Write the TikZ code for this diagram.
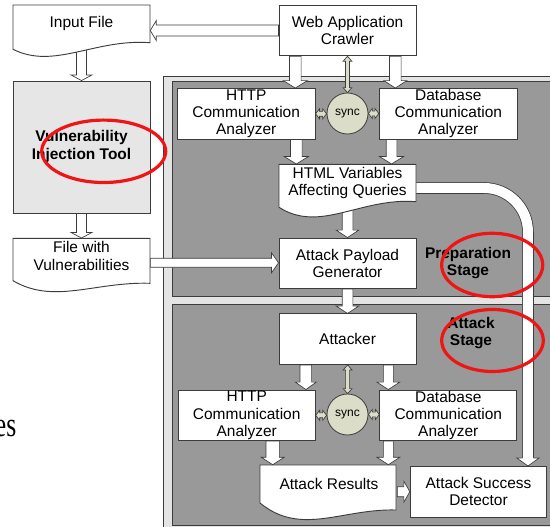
\documentclass[tikz,border=0pt]{standalone}
\usepackage{fontspec}
\setmainfont{Liberation Sans}
\newfontfamily\seriffont{Liberation Serif}
\usetikzlibrary{calc}
\pgfdeclarelayer{panels}
\pgfdeclarelayer{arrows}
\pgfsetlayers{panels,arrows,main}
\definecolor{boxline}{HTML}{3C3C3C}
\definecolor{framefill}{HTML}{E4E4E4}
\definecolor{panelfill}{HTML}{999999}
\definecolor{toolfill}{HTML}{E6E6E6}
\definecolor{syncfill}{HTML}{DCDDC8}
\definecolor{ringred}{HTML}{F01414}
% down block arrow: #1 start (x,y), #2 end (y), #3 shaft half, #4 head half, #5 head length
\newcommand{\arrD}[5]{\draw[barrow] let \p1=#1, \p2=#2 in
  ({\x1-#3},{\y1}) -- ({\x1-#3},{\y2+#5}) -- ({\x1-#4},{\y2+#5}) -- ({\x1},{\y2}) -- ({\x1+#4},{\y2+#5}) -- ({\x1+#3},{\y2+#5}) -- ({\x1+#3},{\y1}) -- cycle;}
% horizontal block arrow: #1 start (x,y), #2 end (x), #5 head length (negative for leftward)
\newcommand{\arrH}[5]{\draw[barrow] let \p1=#1, \p2=#2 in
  ({\x1},{\y1-#3}) -- ({\x2-(#5)},{\y1-#3}) -- ({\x2-(#5)},{\y1-#4}) -- ({\x2},{\y1}) -- ({\x2-(#5)},{\y1+#4}) -- ({\x2-(#5)},{\y1+#3}) -- ({\x1},{\y1+#3}) -- cycle;}
% double headed horizontal
\newcommand{\darrH}[5]{\draw[sarrow] let \p1=#1, \p2=#2 in
  ({\x1},{\y1}) -- ({\x1+#5},{\y1+#4}) -- ({\x1+#5},{\y1+#3}) -- ({\x2-#5},{\y1+#3}) -- ({\x2-#5},{\y1+#4}) -- ({\x2},{\y1}) -- ({\x2-#5},{\y1-#4}) -- ({\x2-#5},{\y1-#3}) -- ({\x1+#5},{\y1-#3}) -- ({\x1+#5},{\y1-#4}) -- cycle;}
% double headed vertical
\newcommand{\darrV}[5]{\draw[sarrow] let \p1=#1, \p2=#2 in
  ({\x1},{\y1}) -- ({\x1+#4},{\y1-#5}) -- ({\x1+#3},{\y1-#5}) -- ({\x1+#3},{\y2+#5}) -- ({\x1+#4},{\y2+#5}) -- ({\x1},{\y2}) -- ({\x1-#4},{\y2+#5}) -- ({\x1-#3},{\y2+#5}) -- ({\x1-#3},{\y1-#5}) -- ({\x1-#4},{\y1-#5}) -- cycle;}
\begin{document}
\begin{tikzpicture}[x=0.75pt,y=-0.75pt,
  boxfont/.style={font=\fontsize{11.6}{12.8}\selectfont},
  box/.style={draw=boxline, line width=0.7pt, fill=white, minimum width=102.75pt, minimum height=37.9pt, inner sep=0pt, align=center, boxfont},
  docnode/.style={minimum width=102.75pt, inner sep=0pt, align=center, boxfont},
  docline/.style={draw=boxline, line width=0.7pt, fill=white},
  syncnode/.style={circle, draw=boxline, line width=0.6pt, fill=syncfill, minimum size=30.75pt, inner sep=0pt, font=\fontsize{9}{10}\selectfont},
  barrow/.style={draw=boxline, line width=0.5pt, fill=white, line join=miter},
  sarrow/.style={draw=boxline, line width=0.5pt, fill=syncfill},
  stagelabel/.style={align=center, font=\bfseries\fontsize{11.6}{12.5}\selectfont},
  ring/.style={draw=ringred, line width=2.4pt},
]
\useasboundingbox (0,0) rectangle (550,527);

\begin{pgfonlayer}{panels}
\fill[framefill] (163.3,76) rectangle (570,545);
\draw[boxline, line width=0.7pt] (570,76) -- (163.3,76) -- (163.3,545);
\filldraw[fill=panelfill, draw=boxline, line width=0.7pt] (172,81) rectangle (570,296);
\filldraw[fill=panelfill, draw=boxline, line width=0.7pt] (172,304) rectangle (570,525);
\end{pgfonlayer}

% left column
\draw[docline] (13,5) -- (150,5) -- (150,42.7) .. controls (95,38.5) and (54,70) .. (13,49.3) -- cycle;
\node[docnode, minimum height=27.45pt] (infile) at (81.5,23.3) {Input File};
\node[box, fill=toolfill, minimum height=99pt, font=\bfseries\fontsize{11.6}{13.5}\selectfont] (vit) at (81.5,147) {Vulnerability\\Injection Tool};
\draw[docline] (13,238.3) -- (150,238.3) -- (150,283.3) .. controls (95,281.5) and (54,304.8) .. (13,280.7) -- cycle;
\node[docnode, minimum height=26.55pt] (fwv) at (81.5,256) {File with\\Vulnerabilities};

% preparation stage
\node[box] (wac) at (347.5,30.5) {Web Application\\Crawler};
\node[box, minimum width=103.3pt] (http1) at (246.2,113.8) {HTTP\\Communication\\Analyzer};
\node[box, minimum width=103.5pt] (db1) at (448.3,113.8) {Database\\Communication\\Analyzer};
\node[syncnode] (sync1) at (347.5,113.5) {sync};
\draw[docline] (279,164.3) -- (416,164.3) -- (416,201.7) .. controls (361,197.2) and (320,233.6) .. (279,207.3) -- cycle;
\node[docnode, minimum height=28.05pt] (html) at (347.5,183) {HTML Variables\\Affecting Queries};
\node[box] (apg) at (347.5,263.3) {Attack Payload\\Generator};
\node[stagelabel] (prep) at (468,263) {Preparation\\Stage};

% attack stage
\node[box] (attacker) at (347.6,339.2) {Attacker};
\node[box] (http2) at (246.7,415.3) {HTTP\\Communication\\Analyzer};
\node[box] (db2) at (448.3,415.3) {Database\\Communication\\Analyzer};
\node[syncnode] (sync2) at (347.5,414.5) {sync};
\draw[docline] (260,465) -- (396,465) -- (396,510) .. controls (342,508.5) and (301,536.6) .. (260,503) -- cycle;
\node[docnode, minimum width=102pt, minimum height=28.5pt] (ares) at (329,484) {Attack Results};
\node[box, minimum width=102.3pt] (asd) at (478.5,491.7) {Attack Success\\Detector};
\node[stagelabel] (atk) at (471,333.3) {Attack\\Stage};

\node[anchor=base east, inner sep=0pt, font=\seriffont\fontsize{26}{26}\selectfont] (es) at (16.5,436.7) {\scalebox{0.74}[1]{es}};

\begin{pgfonlayer}{arrows}
\arrH{(wac.west)}{(infile.east)}{4.1pt}{7.5pt}{-4.5pt}
\arrD{(infile.south)}{(vit.north)}{3.75pt}{7.9pt}{4.2pt}
\arrD{(vit.south)}{(fwv.north)}{3.75pt}{7.9pt}{4.2pt}
\arrH{($(fwv.east)+(0,6.8)$)}{(apg.west)}{3.4pt}{7.5pt}{5.3pt}
\arrD{($(wac.south west)+(16.8,0)$)}{(http1.north)}{4.35pt}{9pt}{5.6pt}
\arrD{($(wac.south west)+(116.8,0)$)}{(db1.north)}{4.35pt}{8.6pt}{5.6pt}
\arrD{($(http1.south east)+(-19.2,0)$)}{(html.north)}{4.35pt}{9pt}{5.6pt}
\arrD{($(db1.south west)+(12.7,0)$)}{(html.north)}{4pt}{9pt}{5.6pt}
\arrD{(html.south)}{(apg.north)}{4pt}{8.5pt}{5.6pt}
\arrD{(apg.south)}{(attacker.north)}{4pt}{8.5pt}{5.6pt}
\arrD{($(attacker.south west)+(27.2,0)$)}{(http2.north)}{4.35pt}{7.9pt}{5.6pt}
\arrD{($(attacker.south west)+(109.7,0)$)}{(db2.north)}{3.75pt}{8.6pt}{5.6pt}
\arrD{($(http2.south west)+(95,0)$)}{(ares.north)}{5pt}{8.6pt}{5.6pt}
\arrD{($(db2.south west)+(9,0)$)}{(ares.north)}{3.75pt}{8.6pt}{5.6pt}
\arrH{($(ares.east)+(0,7.7)$)}{(asd.west)}{3.75pt}{7.9pt}{4.5pt}
% sync links
\darrV{(wac.south)}{(sync1.north)}{1.5pt}{3.3pt}{3.75pt}
\darrH{(http1.east)}{(sync1.west)}{1.8pt}{3.8pt}{3pt}
\darrH{(sync1.east)}{(db1.west)}{1.8pt}{3.8pt}{3pt}
\darrV{(attacker.south)}{(sync2.north)}{1.5pt}{3.3pt}{3.75pt}
\darrH{(http2.east)}{(sync2.west)}{1.8pt}{3.8pt}{3pt}
\darrH{(sync2.east)}{(db2.west)}{1.8pt}{3.8pt}{3pt}
% pipe from HTML variables to detector
\coordinate (pipeA) at ($(html.east)+(-2,5)$);
\coordinate (pipeB) at ($(asd.north east)+(-19.2,-8)$);
\coordinate (pipeT) at ($(asd.north east)+(-19.2,0)$);
\draw[draw=boxline, line width=0.6pt, double=white, double distance=7.5pt, rounded corners=33pt] (pipeA) -- (pipeB |- pipeA) -- (pipeB);
\fill[white] let \p1=(pipeT) in ({\x1},{\y1}) -- ({\x1-8.4pt},{\y1+6pt}) -- ({\x1+8.4pt},{\y1+6pt}) -- cycle;
\draw[boxline, line width=0.5pt, line join=miter] let \p1=(pipeT) in ({\x1-4.05pt},{\y1+6pt}) -- ({\x1-8.4pt},{\y1+6pt}) -- ({\x1},{\y1}) -- ({\x1+8.4pt},{\y1+6pt}) -- ({\x1+4.05pt},{\y1+6pt});
\end{pgfonlayer}

% red annotation rings
\draw[ring] (103.7,151.3) ellipse [x radius=46.5pt, y radius=23.4pt];
\draw[ring] (492.2,265) ellipse [x radius=37.9pt, y radius=23.8pt];
\draw[ring] (492.5,340.5) ellipse [x radius=38.1pt, y radius=23.25pt];
\end{tikzpicture}
\end{document}
